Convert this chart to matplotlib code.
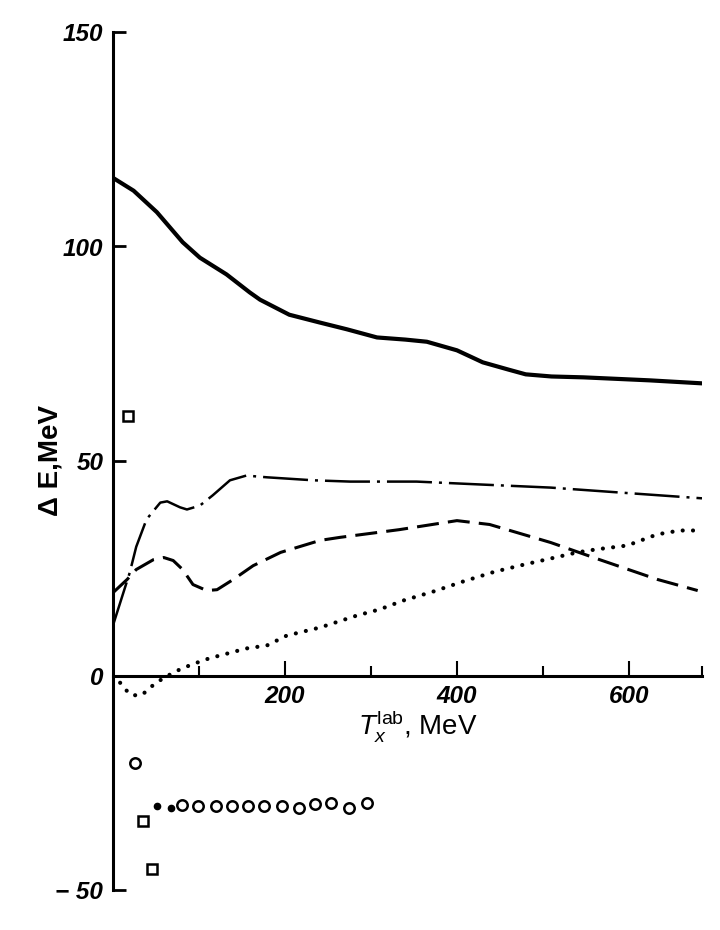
import matplotlib
matplotlib.use("Agg")
import matplotlib.pyplot as plt
from matplotlib.ticker import FixedLocator

# ---------------- data ----------------
solid_x = [0, 24, 51, 81, 101, 132, 159, 171, 205, 240, 272, 307, 340, 365, 400, 430, 460, 480, 510, 547, 624, 685]
solid_y = [116, 113, 108, 101, 97.4, 93.5, 89.3, 87.6, 84.1, 82.3, 80.7, 78.8, 78.3, 77.8, 75.8, 73, 71.3, 70.2, 69.7, 69.5, 68.8, 68.1]

dashdot_x = [0, 19.5, 27, 39, 55, 63, 78, 86, 101, 116, 136, 155, 179, 233, 276, 353, 430, 509, 586, 685]
dashdot_y = [11.7, 24, 30, 36.4, 40.3, 40.6, 39.2, 38.7, 39.6, 42, 45.5, 46.6, 46.2, 45.5, 45.2, 45.2, 44.5, 43.8, 42.7, 41.3]

dashed_x = [0, 16.5, 27, 47, 59, 70, 81, 93, 109, 121, 140, 163, 195, 241, 264, 333, 400, 438, 509, 566, 633, 680]
dashed_y = [19.3, 22.4, 24.7, 27, 27.5, 26.8, 24.7, 21.2, 19.8, 20, 22.4, 25.6, 28.7, 31.5, 32.2, 34, 36.1, 35.2, 31, 27, 22.4, 19.8]

dotted_x = [0, 6, 12, 21.5, 33, 41, 49, 72, 92, 112, 155, 179, 202, 241, 284, 310, 338, 373, 407, 444, 479, 514, 540, 562, 598, 633, 659, 683]
dotted_y = [0, -1, -2.8, -4.6, -4.6, -3.3, -1.8, 0.9, 2.6, 4, 6.3, 7, 9.3, 11.2, 14, 15.4, 17.5, 19.6, 21.9, 24.2, 25.9, 27.5, 28.7, 29.4, 30.3, 32.9, 33.8, 33.8]

circle_x = [25.6, 80, 99, 120, 138, 157, 176, 196, 216, 235, 254, 274, 295]
circle_y = [-20.5, -30.2, -30.5, -30.5, -30.5, -30.4, -30.5, -30.4, -30.8, -30, -29.8, -30.8, -29.7]

square_x = [17.4, 35, 45]
square_y = [60.4, -34, -45.2]

filled_x = [50.8, 68]
filled_y = [-30.4, -30.9]

y_ticks = [-50, 0, 50, 100, 150]
y_ticklabels = ["\u2212 50", "0", "50", "100", "150"]
x_major = [200, 400, 600]
x_major_labels = ["200", "400", "600"]
x_minor = [100, 300, 500, 685]

# ---------------- figure ----------------
plt.rcParams['mathtext.fontset'] = 'custom'
plt.rcParams['mathtext.rm'] = 'Liberation Sans'
plt.rcParams['mathtext.it'] = 'Liberation Sans:italic'

fig = plt.figure(figsize=(7.2, 9.3), dpi=100)
ax = fig.add_axes([113 / 720, 1 - 890 / 930, 589 / 720, (890 - 32) / 930])
ax.set_xlim(0, 685)
ax.set_ylim(-50, 150)

ax.plot(solid_x, solid_y, color='black', lw=3.0, solid_capstyle='round', solid_joinstyle='round')
ax.plot(dashdot_x, dashdot_y, color='black', lw=1.8, linestyle=(0, (18, 2.8, 1.2, 2.8)))
ax.plot(dashed_x, dashed_y, color='black', lw=2.2, linestyle=(0, (7.2, 3.0)))
ax.plot(dotted_x, dotted_y, color='black', lw=3.0, linestyle=(0, (0.01, 2.46)), dash_capstyle='round')

ax.plot(circle_x, circle_y, 'o', ms=7.5, mfc='white', mec='black', mew=1.8, clip_on=False, zorder=5)
ax.plot(square_x, square_y, 's', ms=7, mfc='white', mec='black', mew=1.8, clip_on=False, zorder=5)
ax.plot(filled_x, filled_y, 'o', ms=4.5, mfc='black', mec='black', clip_on=False, zorder=5)

for s in ['top', 'right']:
    ax.spines[s].set_visible(False)
ax.spines['bottom'].set_position(('data', 0))
ax.spines['left'].set_linewidth(2.2)
ax.spines['bottom'].set_linewidth(2.2)

tick_font = dict(family=['Liberation Sans', 'DejaVu Sans'], style='italic', weight='bold', size=17.5)

ax.yaxis.set_major_locator(FixedLocator(y_ticks))
ax.set_yticklabels(y_ticklabels, fontdict=tick_font)
ax.xaxis.set_major_locator(FixedLocator(x_major))
ax.set_xticklabels(x_major_labels, fontdict=tick_font)
ax.xaxis.set_minor_locator(FixedLocator(x_minor))
ax.yaxis.set_minor_locator(FixedLocator([]))

ax.tick_params(axis='y', which='major', direction='in', length=9, width=2, pad=7)
ax.tick_params(axis='x', which='major', direction='in', length=11, width=1.5, pad=7)
ax.tick_params(axis='x', which='minor', direction='in', length=7, width=1.5)

fig.text(50 / 720, 1 - 460 / 930, "\u0394 E,MeV", rotation=90, ha='center', va='center',
         family=['Liberation Sans', 'DejaVu Sans'], weight='bold', size=20)
fig.text(418 / 720, 1 - 735 / 930, r"$T_{x}^{\mathrm{lab}}$, MeV", ha='center', va='baseline',
         family=['Liberation Sans', 'DejaVu Sans'], size=20)

fig.savefig("out.png", dpi=100)
